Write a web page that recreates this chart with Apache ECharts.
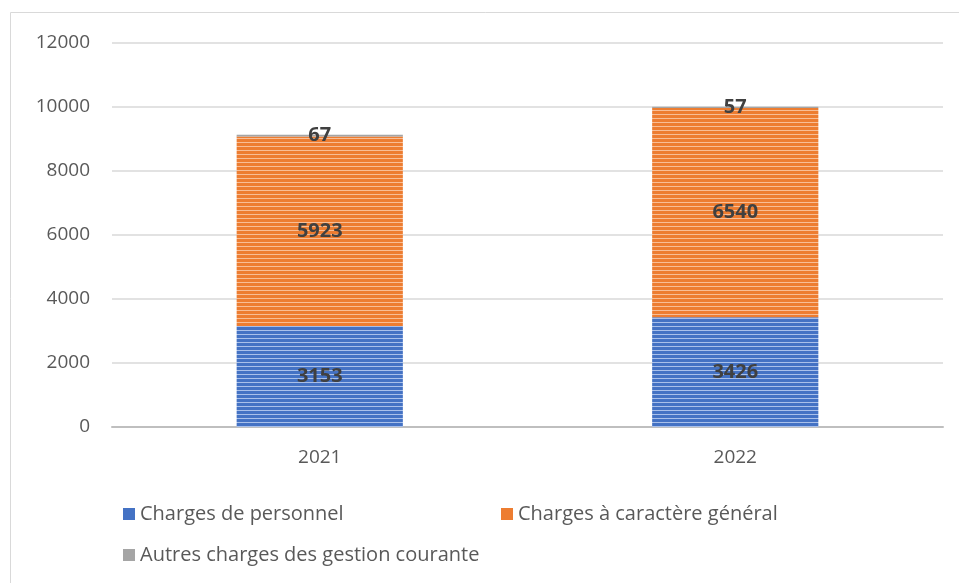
<!DOCTYPE html>
<html>
<head>
<meta charset="utf-8">
<script src="https://cdn.jsdelivr.net/npm/echarts@6/dist/echarts.min.js"></script>
<style>
  html, body { margin: 0; padding: 0; background: #fff; }
  #chart { width: 959px; height: 583px; }
</style>
</head>
<body>
<div id="chart"></div>
<script>
// données
const years = ['2021', '2022'];
const personnel = [3153, 3426];
const caractereGeneral = [5923, 6540];
const autres = [67, 57];
const seriesNames = ['Charges de personnel', 'Charges à caractère général', 'Autres charges des gestion courante'];

// petit motif rayé horizontal, comme dans l'original
function stripes(dark, light) {
    const c = document.createElement('canvas');
    c.width = 8;
    c.height = 4;
    const ctx = c.getContext('2d');
    ctx.fillStyle = dark;
    ctx.fillRect(0, 0, 8, 4);
    ctx.fillStyle = light;
    ctx.fillRect(0, 2, 8, 1);
    return { image: c, repeat: 'repeat' };
}

const blue = stripes('#4472C4', '#A9C0EA');
const orange = stripes('#ED7D31', '#F8BE96');
const grey = stripes('#A5A5A5', '#D0D0D0');

const font = 'Open Sans';

const labelStyle = {
    show: true,
    position: 'inside',
    color: '#404040',
    fontWeight: 'bold',
    fontSize: 20,
    fontFamily: font
};

function legendAt(left, top, idx, color) {
    return {
        left: left, top: top,
        itemWidth: 12, itemHeight: 12,
        icon: 'rect',
        textStyle: { color: '#595959', fontSize: 20, fontFamily: font },
        data: [{ name: seriesNames[idx], itemStyle: { color: color } }]
    };
}

const chart = echarts.init(document.getElementById('chart'));
chart.setOption({
    animation: false,
    textStyle: { fontFamily: font },
    graphic: [{
        type: 'rect',
        shape: { x: 10.5, y: 12.5, width: 960, height: 600 },
        style: { fill: 'none', stroke: '#D9D9D9', lineWidth: 1 }
    }],
    grid: { left: 112, right: 16, top: 43, bottom: 156 },
    legend: [
        legendAt(118, 499, 0, '#4472C4'),
        legendAt(496, 499, 1, '#ED7D31'),
        legendAt(118, 540, 2, '#A5A5A5')
    ],
    xAxis: {
        type: 'category',
        data: years,
        axisLine: { lineStyle: { color: '#BFBFBF', width: 2 } },
        axisTick: { show: false },
        axisLabel: { color: '#595959', fontSize: 19, margin: 21 }
    },
    yAxis: {
        type: 'value',
        min: 0,
        max: 12000,
        interval: 2000,
        axisLabel: { color: '#595959', fontSize: 19, margin: 22, formatter: (v) => String(v) },
        splitLine: { lineStyle: { color: '#D9D9D9', width: 1.5 } }
    },
    series: [
        {
            name: seriesNames[0], type: 'bar', stack: 'total', barWidth: '40%',
            data: personnel, itemStyle: { color: blue }, label: labelStyle
        },
        {
            name: seriesNames[1], type: 'bar', stack: 'total',
            data: caractereGeneral, itemStyle: { color: orange }, label: labelStyle
        },
        {
            name: seriesNames[2], type: 'bar', stack: 'total',
            data: autres, itemStyle: { color: grey }, label: labelStyle
        }
    ]
});
</script>
</body>
</html>
